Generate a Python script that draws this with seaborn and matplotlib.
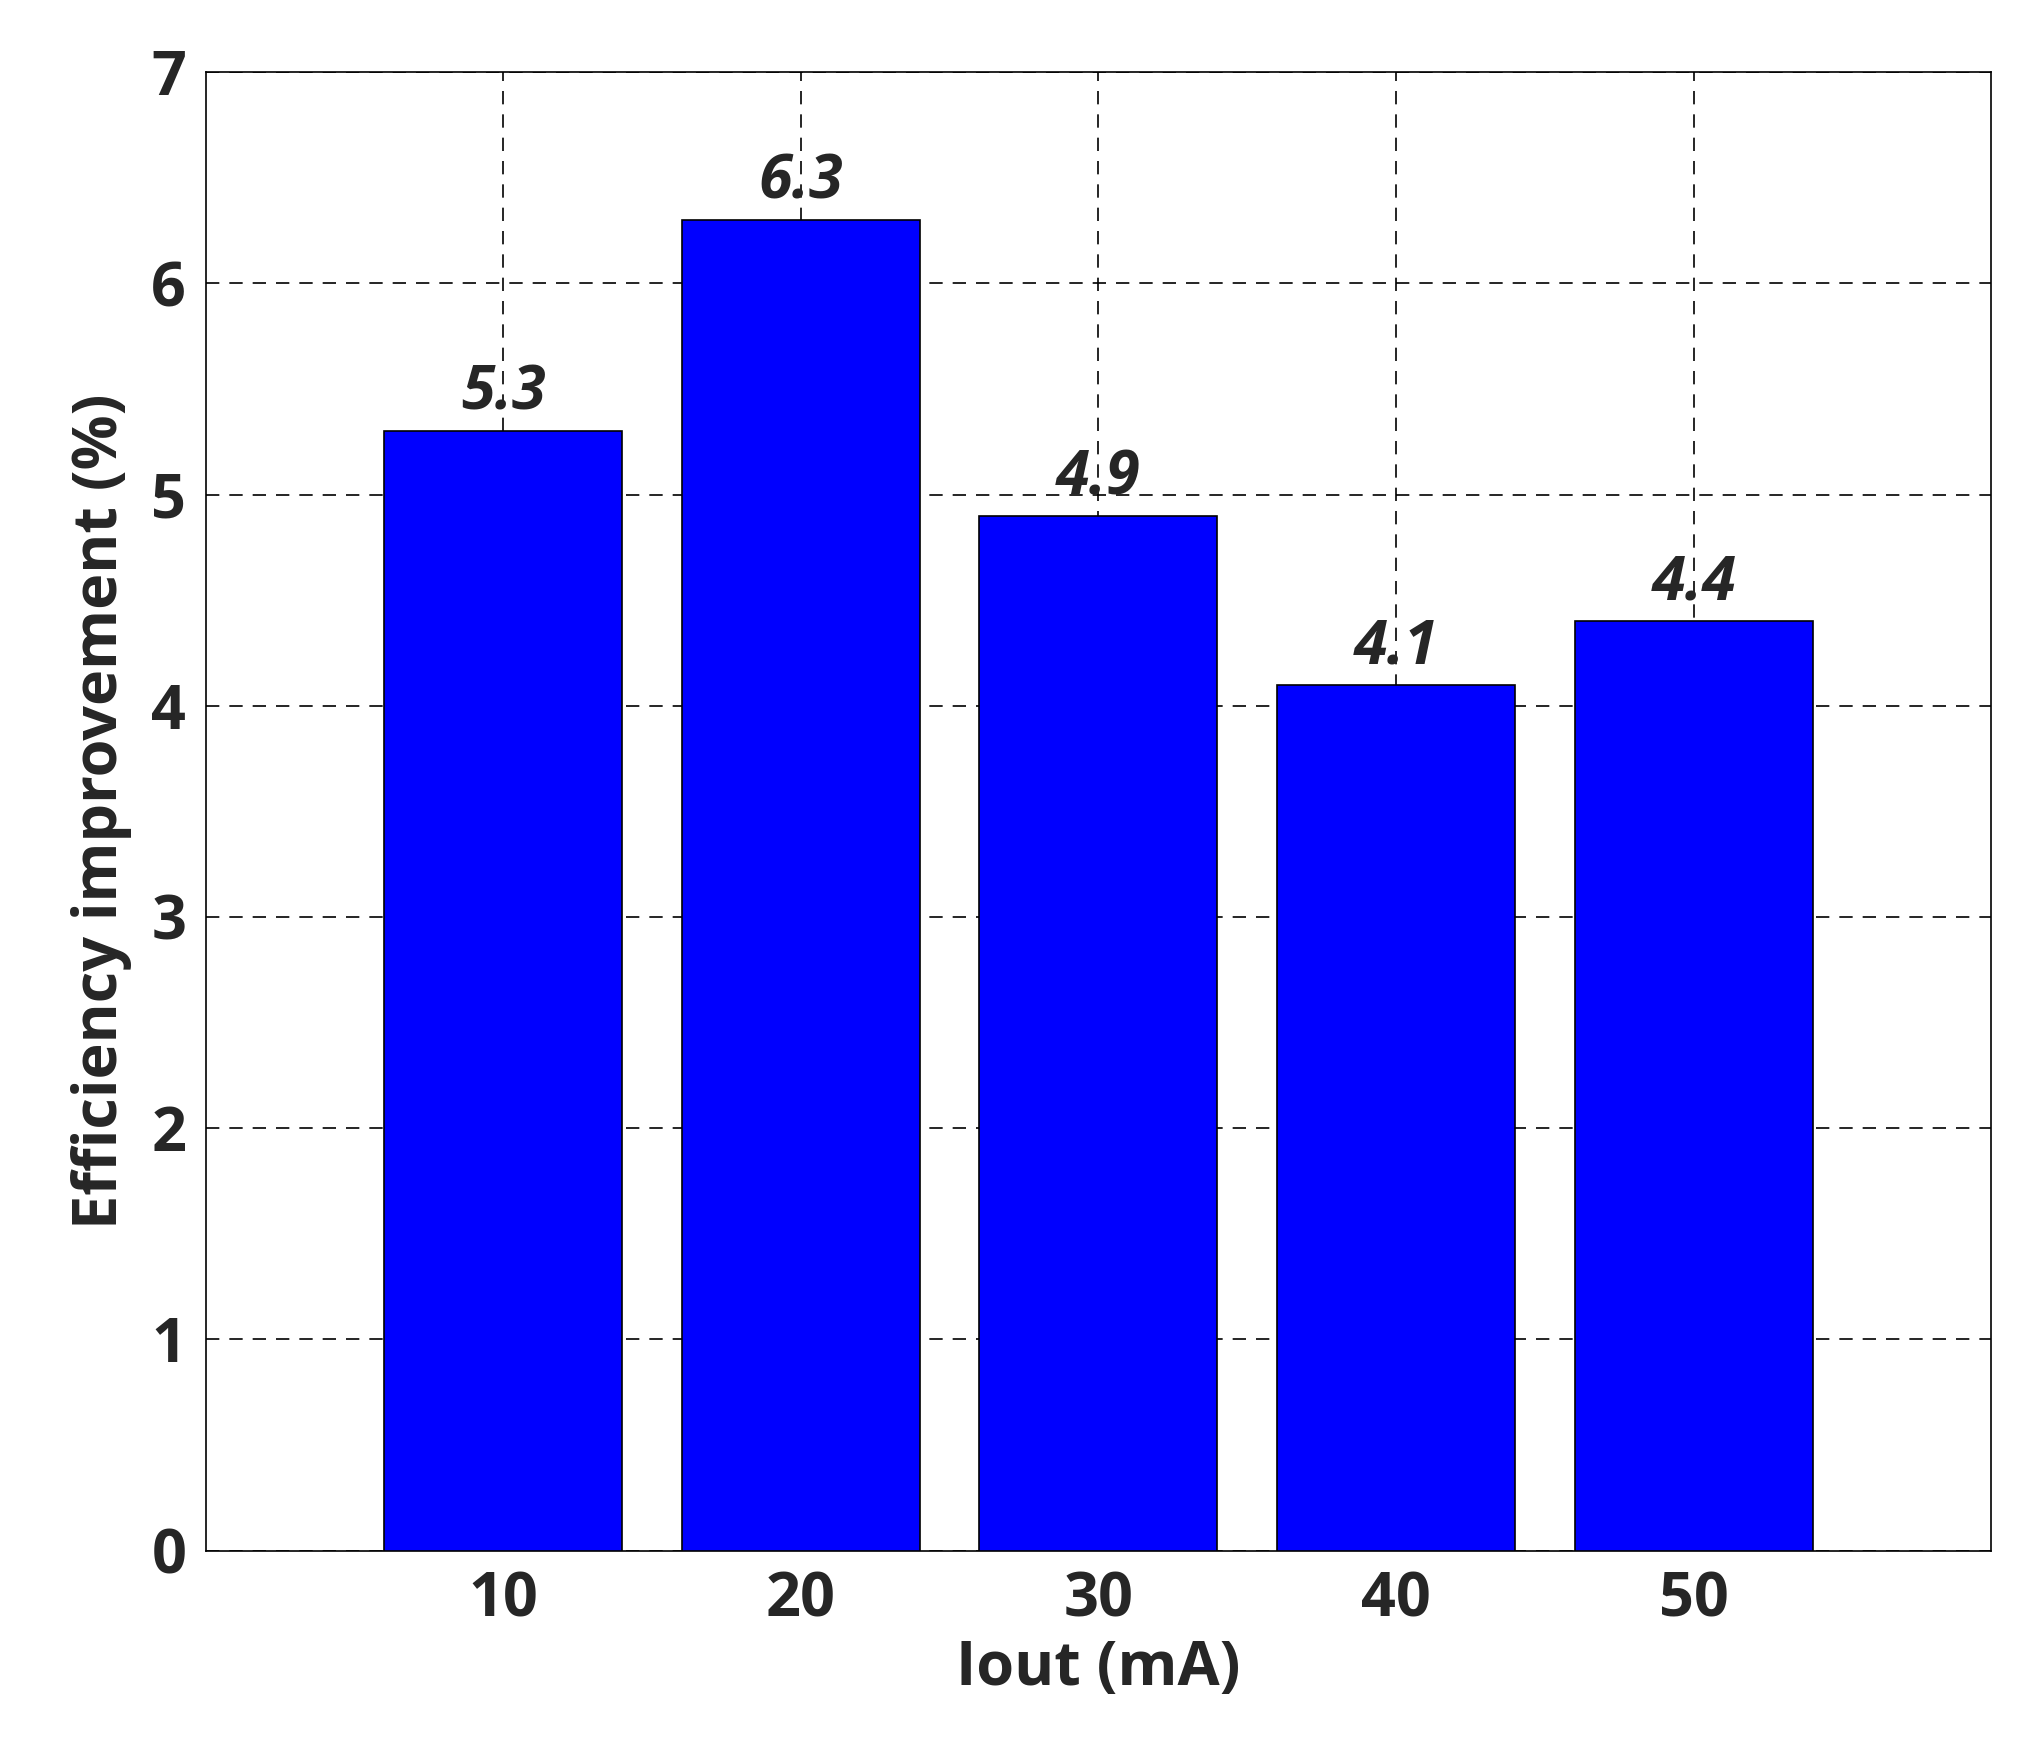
import matplotlib
matplotlib.use("Agg")
import matplotlib.pyplot as plt
import seaborn as sns
import pandas as pd

currents = ["10", "20", "30", "40", "50"]
improvement = [5.3, 6.3, 4.9, 4.1, 4.4]
yticks = [0, 1, 2, 3, 4, 5, 6, 7]

sns.set_style("white")
plt.rcParams['font.family'] = ['Open Sans', 'DejaVu Sans']

df = pd.DataFrame({"Iout": currents, "eff": improvement})
fig = plt.figure(figsize=(20.36, 17.6), dpi=100)
ax = fig.add_axes([0.101, 0.119, 0.877, 0.84])
sns.barplot(data=df, x="Iout", y="eff", color="#0000FF", saturation=1,
            edgecolor="black", linewidth=1.2, width=0.8, ax=ax, zorder=3)
for i, v in enumerate(improvement):
    ax.text(i, v + 0.03, f"{v}", ha="center", va="bottom", fontsize=44,
            fontweight="bold", fontstyle="italic", zorder=4)
ax.set_xlim(-1, 5)
ax.set_ylim(0, 7)
ax.set_yticks(yticks)
ax.grid(True, color="black", linestyle=(0, (8, 6)), linewidth=1.2, zorder=0)
ax.set_axisbelow(True)
for s in ax.spines.values():
    s.set_color("black"); s.set_linewidth(1.2)
ax.tick_params(labelsize=44, length=0, pad=14)
for lab in ax.get_xticklabels() + ax.get_yticklabels():
    lab.set_fontweight("bold")
ax.set_xlabel("Iout (mA)", fontsize=44, fontweight="bold", labelpad=6)
ax.set_ylabel("Efficiency improvement (%)", fontsize=44, fontweight="bold", labelpad=14)
fig.savefig("out.png", dpi=100)
